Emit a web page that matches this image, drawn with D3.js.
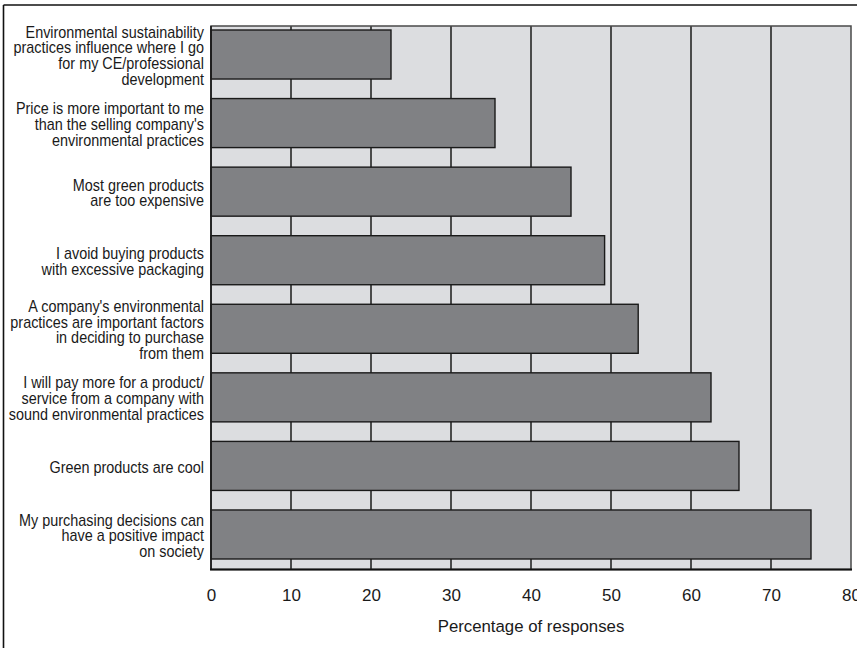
<!DOCTYPE html>
<html>
<head>
<meta charset="utf-8">
<script src="https://cdn.jsdelivr.net/npm/d3@7"></script>
<style>
  html, body { margin: 0; padding: 0; background: #fff; }
  svg { display: block; }
  text { font-family: "Liberation Sans", Arial, sans-serif; fill: #1a1a1a; }
</style>
</head>
<body>
<svg id="chart" width="857" height="648"></svg>
<script>
// Survey statements (line breaks as drawn) and share of respondents agreeing
const categories = [
  "Environmental sustainability\npractices influence where I go\nfor my CE/professional\ndevelopment",
  "Price is more important to me\nthan the selling company's\nenvironmental practices",
  "Most green products\nare too expensive",
  "I avoid buying products\nwith excessive packaging",
  "A company's environmental\npractices are important factors\nin deciding to purchase\nfrom them",
  "I will pay more for a product/\nservice from a company with\nsound environmental practices",
  "Green products are cool",
  "My purchasing decisions can\nhave a positive impact\non society"
];
const values = [22.5, 35.5, 45, 49.2, 53.4, 62.5, 66, 75];
const tickValues = [0, 10, 20, 30, 40, 50, 60, 70, 80];
const axisTitle = "Percentage of responses";

const svg = d3.select("#chart");
const W = 857, H = 648;
const plot = { left: 211, right: 851, top: 26, bottom: 569.5 };
const condense = 0.9; // horizontal squeeze that gives the narrow label face

// Outer frame (only the top and left edges fall inside the canvas)
svg.append("line").attr("x1", 3.5).attr("x2", W).attr("y1", 5).attr("y2", 5)
  .attr("stroke", "#111").attr("stroke-width", 1.6);
svg.append("line").attr("x1", 3.5).attr("x2", 3.5).attr("y1", 5).attr("y2", H)
  .attr("stroke", "#111").attr("stroke-width", 1.6);

const x = d3.scaleLinear().domain([0, 80]).range([plot.left, plot.right]);
const y = d3.scaleBand().domain(d3.range(categories.length))
  .range([30, 559]).paddingInner(0.285).paddingOuter(0);

// Plot background
svg.append("rect")
  .attr("x", plot.left).attr("y", plot.top)
  .attr("width", plot.right - plot.left).attr("height", plot.bottom - plot.top)
  .attr("fill", "#dcdde0");

// Vertical grid lines
svg.append("g").selectAll("line")
  .data(tickValues.slice(1, -1))
  .join("line")
  .attr("x1", d => x(d)).attr("x2", d => x(d))
  .attr("y1", plot.top).attr("y2", plot.bottom)
  .attr("stroke", "#1a1a1a").attr("stroke-width", 1.5);

// Bars
svg.append("g").selectAll("rect")
  .data(values)
  .join("rect")
  .attr("x", x(0))
  .attr("y", (d, i) => y(i))
  .attr("width", d => x(d) - x(0))
  .attr("height", y.bandwidth())
  .attr("fill", "#808184")
  .attr("stroke", "#1a1a1a").attr("stroke-width", 1.4);

// Plot frame
svg.append("rect")
  .attr("x", plot.left).attr("y", plot.top)
  .attr("width", plot.right - plot.left).attr("height", plot.bottom - plot.top)
  .attr("fill", "none").attr("stroke", "#4a4a4a").attr("stroke-width", 1.5);
svg.append("line")
  .attr("x1", plot.left).attr("x2", plot.left)
  .attr("y1", plot.top).attr("y2", plot.bottom)
  .attr("stroke", "#111").attr("stroke-width", 1.5);
svg.append("line")
  .attr("x1", plot.left - 1).attr("x2", plot.right + 1)
  .attr("y1", plot.bottom).attr("y2", plot.bottom)
  .attr("stroke", "#111").attr("stroke-width", 2.2);

// X axis tick labels
const xAxis = d3.axisBottom(x).tickValues(tickValues).tickSize(0).tickPadding(0).tickFormat(d3.format("d"));
const gx = svg.append("g").attr("transform", `translate(0,${plot.bottom})`).call(xAxis);
gx.select(".domain").remove();
gx.selectAll("text")
  .attr("y", 31).attr("dy", 0)
  .style("font-size", "17px").attr("fill", "#1a1a1a");

// Axis title
svg.append("text")
  .attr("x", (plot.left + plot.right) / 2).attr("y", 632)
  .attr("text-anchor", "middle")
  .style("font-size", "16.8px")
  .text(axisTitle);

// Category labels, right aligned and centred on each bar
const lineH = 15.7;
const labels = svg.append("g").selectAll("g")
  .data(categories)
  .join("g")
  .attr("transform", `translate(204,0) scale(${condense},1)`);
labels.each(function (d, i) {
  const lines = d.split("\n");
  const cy = y(i) + y.bandwidth() / 2;
  const first = cy - (lines.length - 1) * lineH / 2 + 6.8;
  d3.select(this).append("text")
    .attr("text-anchor", "end")
    .style("font-size", "16px")
    .selectAll("tspan")
    .data(lines)
    .join("tspan")
    .attr("x", 0)
    .attr("y", (l, k) => first + k * lineH)
    .text(l => l);
});
</script>
</body>
</html>
